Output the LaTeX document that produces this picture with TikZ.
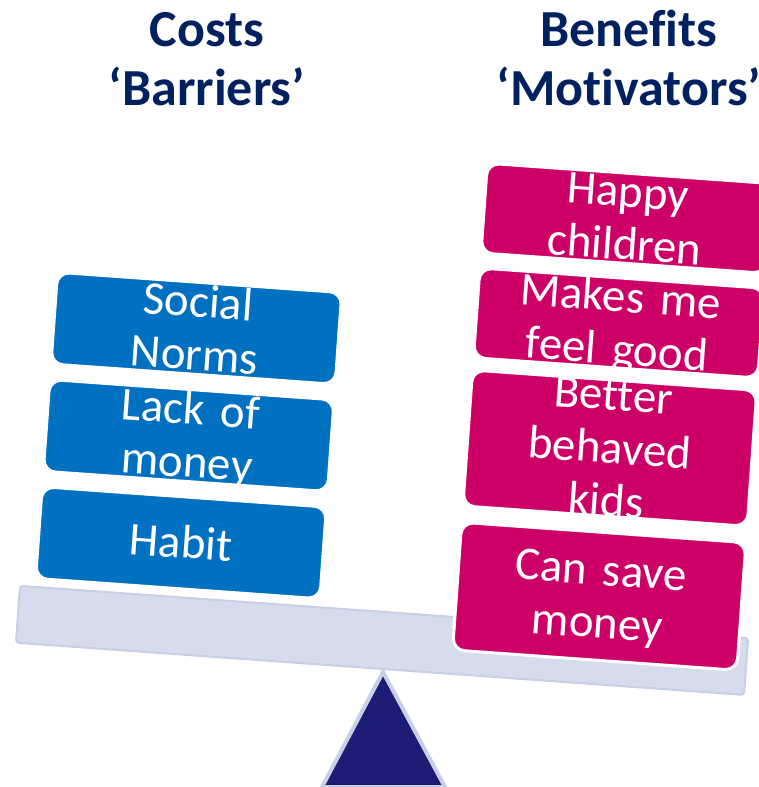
\documentclass[tikz,border=0pt]{standalone}
\usepackage{fontspec}
\setmainfont{Carlito}[Ligatures=CommonOff]
\definecolor{navy}{HTML}{002060}
\definecolor{costblue}{HTML}{0070C0}
\definecolor{benefitpink}{HTML}{CC0066}
\definecolor{beamfill}{HTML}{D6DCEB}
\definecolor{beamline}{HTML}{C8D0E5}
\definecolor{fulcrumfill}{HTML}{1C1C74}
\newcommand\capln[1]{\raisebox{0pt}[0.644em][0pt]{#1}}
\tikzset{
  pad/.style={rounded corners=12bp, draw=white, line width=3bp, text=white,
    inner sep=0pt, minimum width=285bp, text width=285bp, align=center,
    font=\fontsize{47bp}{53bp}\selectfont},
  cost/.style={pad, fill=costblue, minimum height=92bp},
  benefit/.style={pad, fill=benefitpink},
  heading/.style={text=navy, font=\bfseries\fontsize{52bp}{58bp}\selectfont,
    text width=320bp, align=center, anchor=base},
  beam/.style={fill=beamfill, draw=beamline, line width=2bp, rounded corners=3bp},
  fulcrum/.style={fill=fulcrumfill, draw=beamline, line width=4bp, line join=miter}
}
\begin{document}
\begin{tikzpicture}[x=1bp,y=-1bp]
  \useasboundingbox (0,0) rectangle (759,787);
  \clip (0,0) rectangle (759,787);
  \node[heading] (costs) at (207,47) {Costs\\‘Barriers’};
  \node[heading] (benefits) at (629,47) {Benefits\\‘Motivators’};

  \draw[fulcrum] (383,672) -- (322,787) -- (445,787) -- cycle;

  \begin{scope}[shift={(383,669)},rotate=-4.1,transform shape]
    \draw[beam] (-368,-57) rectangle (362,0);

    \node[cost] (habit) at (-210.5,-111.5) {\capln{Habit}};
    \node[cost] (lack) at (-210.5,-219) {\capln{Lack of}\\\capln{money}};
    \node[cost] (social) at (-210.5,-326.5) {\capln{Social}\\\capln{Norms}};

    \node[benefit,minimum height=128bp] (save) at (210.5,-88) {\capln{Can save}\\\capln{money}};
    \node[benefit,minimum height=131bp] (kids) at (210.5,-236.5) {\capln{Better}\\\capln{behaved}\\\capln{kids}};
    \node[benefit,minimum height=90bp] (good) at (210.5,-362) {\capln{Makes me}\\\capln{feel good}};
    \node[benefit,minimum height=90bp] (happy) at (210.5,-467) {\capln{Happy}\\\capln{children}};
  \end{scope}
\end{tikzpicture}
\end{document}
